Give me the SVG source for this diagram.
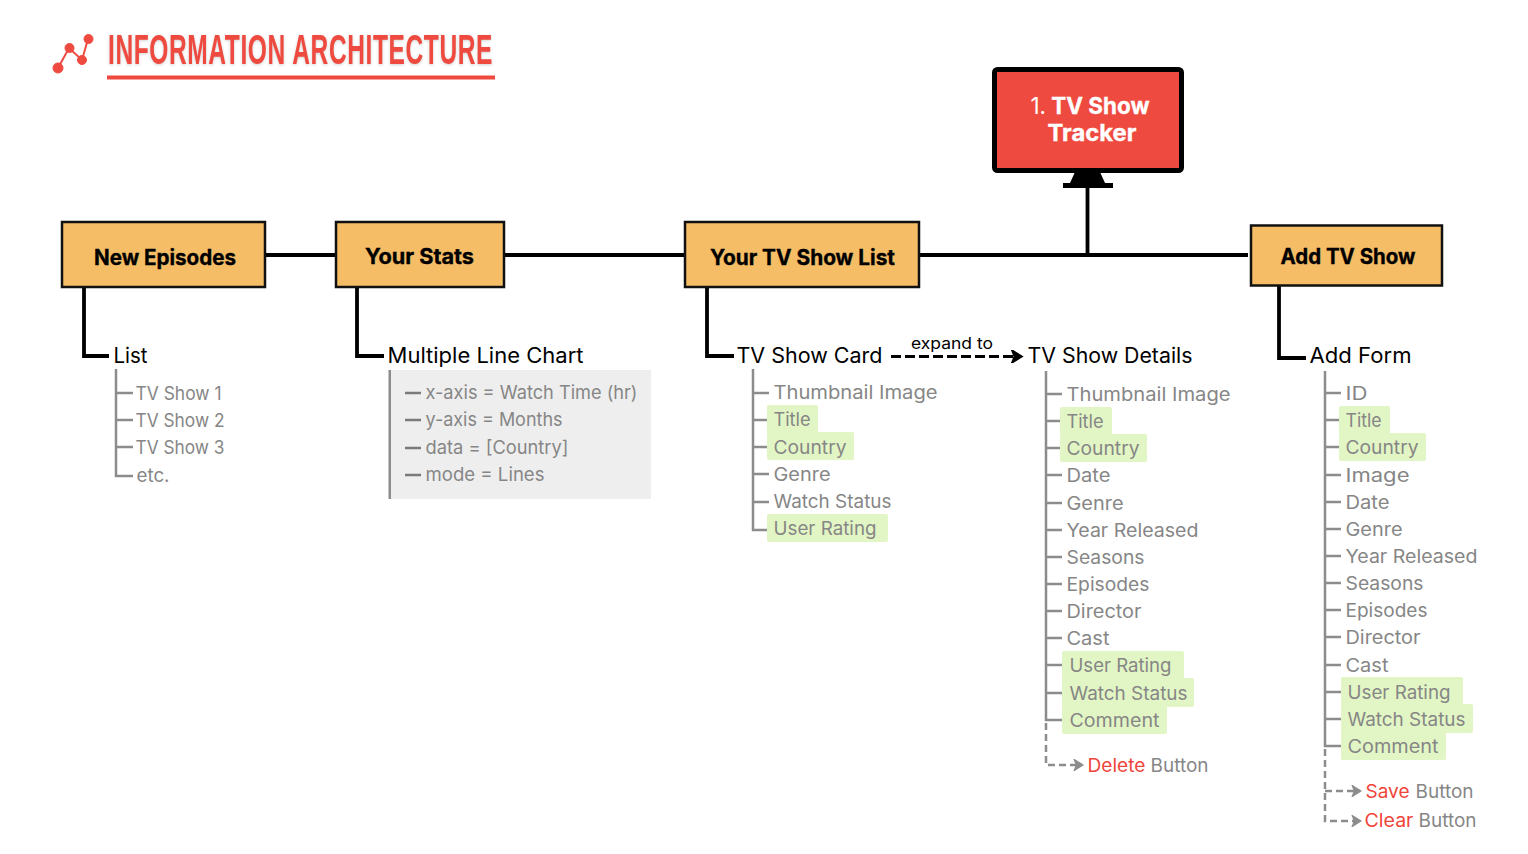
<svg xmlns="http://www.w3.org/2000/svg" width="1528" height="854" viewBox="0 0 1528 854">
<style>
text{font-family:"Inter","Noto Sans","Liberation Sans",sans-serif}
.title{font-family:"Liberation Sans Narrow","Liberation Sans",sans-serif;font-weight:700;font-size:42px;fill:#ef4a3f;filter:drop-shadow(0 1px 1.5px rgba(0,0,0,.18))}
.box{fill:#f5bd66;stroke:#111;stroke-width:2.5}
.bt{font-weight:700;font-size:21px;fill:#000;text-anchor:middle;stroke:#000;stroke-width:.35;transform:translateY(.5px)}
.wt{font-weight:700;font-size:23px;fill:#fff;text-anchor:middle;stroke:#fff;stroke-width:.35;transform:translateY(.5px)}
.k{font-size:21px;fill:#000;transform:translateX(-.5px)}
.g{font-size:18.5px;fill:#868686;transform:translate(-.5px,.7px)}
.r{font-size:18.5px;fill:#f0443a;transform:translate(-.5px,.7px)}
.hl{fill:#e2f5c4}
.blk{fill:none;stroke:#000;stroke-width:3.8}
.gr{fill:none;stroke:#8c8c8c;stroke-width:2.5}
.gd{fill:none;stroke:#8c8c8c;stroke-width:2.5;stroke-dasharray:7 4}
</style>
<defs>
<marker id="ab" viewBox="0 0 10 10" refX="8" refY="5" markerWidth="4.500" markerHeight="4.500" orient="auto" markerUnits="strokeWidth"><path d="M1 0L9 5L1 10L3 5Z" fill="#000" stroke="#000"/></marker>
<marker id="ag" viewBox="0 0 10 10" refX="8" refY="5" markerWidth="4.500" markerHeight="4.500" orient="auto" markerUnits="strokeWidth"><path d="M1 0L9 5L1 10L3 5Z" fill="#8c8c8c" stroke="#8c8c8c"/></marker>
</defs>
<rect width="1528" height="854" fill="#fff"/>

<g id="header">
<g fill="#ef4a3f" stroke="#ef4a3f"><path d="M58 68L69 48L82 60L88 39" fill="none" stroke-width="2"/><circle cx="58" cy="68" r="5"/><circle cx="69.500" cy="48" r="4.500"/><circle cx="82" cy="60" r="4.500"/><circle cx="88.500" cy="39" r="4.500"/></g>
<text class="title" x="108" y="64" textLength="385" lengthAdjust="spacingAndGlyphs" letter-spacing="1">INFORMATION ARCHITECTURE</text>
<rect x="107" y="75.500" width="388" height="4" fill="#ef4a3f"/>
</g>

<g id="connectors">
<path class="blk" d="M265 255H1248M1087.500 185V255"/>
<path d="M1075 172H1100L1105 183H1113V188H1063V183H1070Z" fill="#000"/>
<path class="blk" d="M84 287V356H109M357 287V356H384M707 287V356H734M1279 286V358H1306"/>
<path class="blk" stroke-dasharray="10 4" style="stroke-width:3" d="M891 356.500H1021" marker-end="url(#ab)"/>
<path class="gr" d="M116 369V476H133M116 393H133M116 420H133M116 447H133"/>
<path class="gr" d="M753 369V530H769M753 393H769M753 420H769M753 447H769M753 474H769M753 502H769"/>
<path class="gr" d="M1046 371V720H1062M1046 394H1062M1046 421H1062M1046 448H1062M1046 475H1062M1046 503H1062M1046 530H1062M1046 557H1062M1046 584H1062M1046 611H1062M1046 638H1062M1046 665H1062M1046 693H1062"/>
<path class="gr" d="M1325 371V746H1341M1325 393H1341M1325 420H1341M1325 447H1341M1325 475H1341M1325 502H1341M1325 529H1341M1325 556H1341M1325 583H1341M1325 610H1341M1325 637H1341M1325 665H1341M1325 692H1341M1325 719H1341"/>
<path class="gd" d="M1046 723V765H1082" marker-end="url(#ag)"/>
<path class="gd" d="M1325 749V821H1360" marker-end="url(#ag)"/>
<path class="gd" d="M1325 791H1360" marker-end="url(#ag)"/>
</g>

<g id="node-tracker">
<rect x="994.500" y="69.500" width="187" height="101" rx="3" fill="#ef4a3f" stroke="#000" stroke-width="5"/>
<text class="wt" x="1090" y="113" textLength="119" lengthAdjust="spacingAndGlyphs"><tspan font-weight="400" stroke-width="0">1.</tspan> TV Show</text>
<text class="wt" x="1092" y="140" textLength="89" lengthAdjust="spacingAndGlyphs">Tracker</text>
</g>

<g id="node-new-episodes">
<rect class="box" x="62" y="222" width="203" height="65"/>
<text class="bt" x="165" y="264" textLength="142" lengthAdjust="spacingAndGlyphs">New Episodes</text>
</g>
<g id="node-your-stats">
<rect class="box" x="336" y="222" width="168" height="65"/>
<text class="bt" x="419.500" y="263" textLength="109" lengthAdjust="spacingAndGlyphs">Your Stats</text>
</g>
<g id="node-your-list">
<rect class="box" x="685" y="222" width="234" height="65"/>
<text class="bt" x="802.500" y="264" textLength="185" lengthAdjust="spacingAndGlyphs">Your TV Show List</text>
</g>
<g id="node-add">
<rect class="box" x="1251" y="225.500" width="191" height="60"/>
<text class="bt" x="1348" y="263" textLength="135" lengthAdjust="spacingAndGlyphs">Add TV Show</text>
</g>

<g id="node-list">
<text class="k" x="114" y="363" textLength="34" lengthAdjust="spacingAndGlyphs">List</text>
<text class="g" x="136" y="399" textLength="86" lengthAdjust="spacingAndGlyphs">TV Show 1</text>
<text class="g" x="136" y="426" textLength="89" lengthAdjust="spacingAndGlyphs">TV Show 2</text>
<text class="g" x="136" y="453" textLength="89" lengthAdjust="spacingAndGlyphs">TV Show 3</text>
<text class="g" x="137" y="481" textLength="33" lengthAdjust="spacingAndGlyphs">etc.</text>
</g>

<g id="node-chart">
<text class="k" x="388" y="363" textLength="196" lengthAdjust="spacingAndGlyphs">Multiple Line Chart</text>
<rect x="389" y="370" width="262" height="129" fill="#eee"/>
<rect x="388.500" y="370" width="2.500" height="129" fill="#8c8c8c"/>
<path d="M405 393H421M405 420H421M405 448H421M405 475H421" stroke="#7a7a7a" stroke-width="2.500"/>
<text class="g" x="426" y="398" textLength="212" lengthAdjust="spacingAndGlyphs">x-axis = Watch Time (hr)</text>
<text class="g" x="426" y="425" textLength="137" lengthAdjust="spacingAndGlyphs">y-axis = Months</text>
<text class="g" x="426" y="453" textLength="143" lengthAdjust="spacingAndGlyphs">data = [Country]</text>
<text class="g" x="426" y="480" textLength="119" lengthAdjust="spacingAndGlyphs">mode = Lines</text>
</g>

<g id="node-card">
<text class="k" x="737" y="363" textLength="146" lengthAdjust="spacingAndGlyphs">TV Show Card</text>
<text x="911" y="349" font-size="15.500" fill="#000" textLength="82" lengthAdjust="spacingAndGlyphs">expand to</text>
<rect class="hl" x="767" y="405" width="51" height="28" rx="2"/>
<rect class="hl" x="767" y="432" width="87" height="28" rx="2"/>
<rect class="hl" x="767" y="514" width="121" height="28" rx="2"/>
<text class="g" x="774" y="398" textLength="164" lengthAdjust="spacingAndGlyphs">Thumbnail Image</text>
<text class="g" x="774" y="425" textLength="37" lengthAdjust="spacingAndGlyphs">Title</text>
<text class="g" x="774" y="453" textLength="73" lengthAdjust="spacingAndGlyphs">Country</text>
<text class="g" x="774" y="480" textLength="57" lengthAdjust="spacingAndGlyphs">Genre</text>
<text class="g" x="774" y="507" textLength="118" lengthAdjust="spacingAndGlyphs">Watch Status</text>
<text class="g" x="774" y="534" textLength="103" lengthAdjust="spacingAndGlyphs">User Rating</text>
</g>

<g id="node-details">
<text class="k" x="1028" y="363" textLength="165" lengthAdjust="spacingAndGlyphs">TV Show Details</text>
<rect class="hl" x="1060" y="407" width="52" height="28" rx="2"/>
<rect class="hl" x="1060" y="434" width="87" height="28" rx="2"/>
<rect class="hl" x="1062" y="651" width="122" height="28" rx="2"/>
<rect class="hl" x="1062" y="678" width="132" height="29" rx="2"/>
<rect class="hl" x="1062" y="706" width="105" height="28" rx="2"/>
<text class="g" x="1067" y="400" textLength="164" lengthAdjust="spacingAndGlyphs">Thumbnail Image</text>
<text class="g" x="1067" y="427" textLength="37" lengthAdjust="spacingAndGlyphs">Title</text>
<text class="g" x="1067" y="454" textLength="73" lengthAdjust="spacingAndGlyphs">Country</text>
<text class="g" x="1067" y="481" textLength="44" lengthAdjust="spacingAndGlyphs">Date</text>
<text class="g" x="1067" y="509" textLength="57" lengthAdjust="spacingAndGlyphs">Genre</text>
<text class="g" x="1067" y="536" textLength="132" lengthAdjust="spacingAndGlyphs">Year Released</text>
<text class="g" x="1067" y="563" textLength="78" lengthAdjust="spacingAndGlyphs">Seasons</text>
<text class="g" x="1067" y="590" textLength="83" lengthAdjust="spacingAndGlyphs">Episodes</text>
<text class="g" x="1067" y="617" textLength="75" lengthAdjust="spacingAndGlyphs">Director</text>
<text class="g" x="1067" y="644" textLength="43" lengthAdjust="spacingAndGlyphs">Cast</text>
<text class="g" x="1070" y="671" textLength="102" lengthAdjust="spacingAndGlyphs">User Rating</text>
<text class="g" x="1070" y="699" textLength="118" lengthAdjust="spacingAndGlyphs">Watch Status</text>
<text class="g" x="1070" y="726" textLength="90" lengthAdjust="spacingAndGlyphs">Comment</text>
<text class="r" x="1088" y="771" textLength="58" lengthAdjust="spacingAndGlyphs">Delete</text>
<text class="g" x="1151" y="771" textLength="58" lengthAdjust="spacingAndGlyphs">Button</text>
</g>

<g id="node-form">
<text class="k" x="1310" y="363" textLength="102" lengthAdjust="spacingAndGlyphs">Add Form</text>
<rect class="hl" x="1339" y="406" width="51" height="28" rx="2"/>
<rect class="hl" x="1339" y="433" width="87" height="28" rx="2"/>
<rect class="hl" x="1341" y="677" width="122" height="28" rx="2"/>
<rect class="hl" x="1341" y="704" width="132" height="29" rx="2"/>
<rect class="hl" x="1341" y="732" width="105" height="28" rx="2"/>
<text class="g" x="1346" y="399" textLength="22" lengthAdjust="spacingAndGlyphs">ID</text>
<text class="g" x="1346" y="426" textLength="36" lengthAdjust="spacingAndGlyphs">Title</text>
<text class="g" x="1346" y="453" textLength="73" lengthAdjust="spacingAndGlyphs">Country</text>
<text class="g" x="1346" y="481" textLength="64" lengthAdjust="spacingAndGlyphs">Image</text>
<text class="g" x="1346" y="508" textLength="44" lengthAdjust="spacingAndGlyphs">Date</text>
<text class="g" x="1346" y="535" textLength="57" lengthAdjust="spacingAndGlyphs">Genre</text>
<text class="g" x="1346" y="562" textLength="132" lengthAdjust="spacingAndGlyphs">Year Released</text>
<text class="g" x="1346" y="589" textLength="78" lengthAdjust="spacingAndGlyphs">Seasons</text>
<text class="g" x="1346" y="616" textLength="82" lengthAdjust="spacingAndGlyphs">Episodes</text>
<text class="g" x="1346" y="643" textLength="75" lengthAdjust="spacingAndGlyphs">Director</text>
<text class="g" x="1346" y="671" textLength="43" lengthAdjust="spacingAndGlyphs">Cast</text>
<text class="g" x="1348" y="698" textLength="103" lengthAdjust="spacingAndGlyphs">User Rating</text>
<text class="g" x="1348" y="725" textLength="118" lengthAdjust="spacingAndGlyphs">Watch Status</text>
<text class="g" x="1348" y="752" textLength="91" lengthAdjust="spacingAndGlyphs">Comment</text>
<text class="r" x="1366" y="797" textLength="44" lengthAdjust="spacingAndGlyphs">Save</text>
<text class="g" x="1416" y="797" textLength="58" lengthAdjust="spacingAndGlyphs">Button</text>
<text class="r" x="1365" y="826" textLength="49" lengthAdjust="spacingAndGlyphs">Clear</text>
<text class="g" x="1419" y="826" textLength="58" lengthAdjust="spacingAndGlyphs">Button</text>
</g>
</svg>
